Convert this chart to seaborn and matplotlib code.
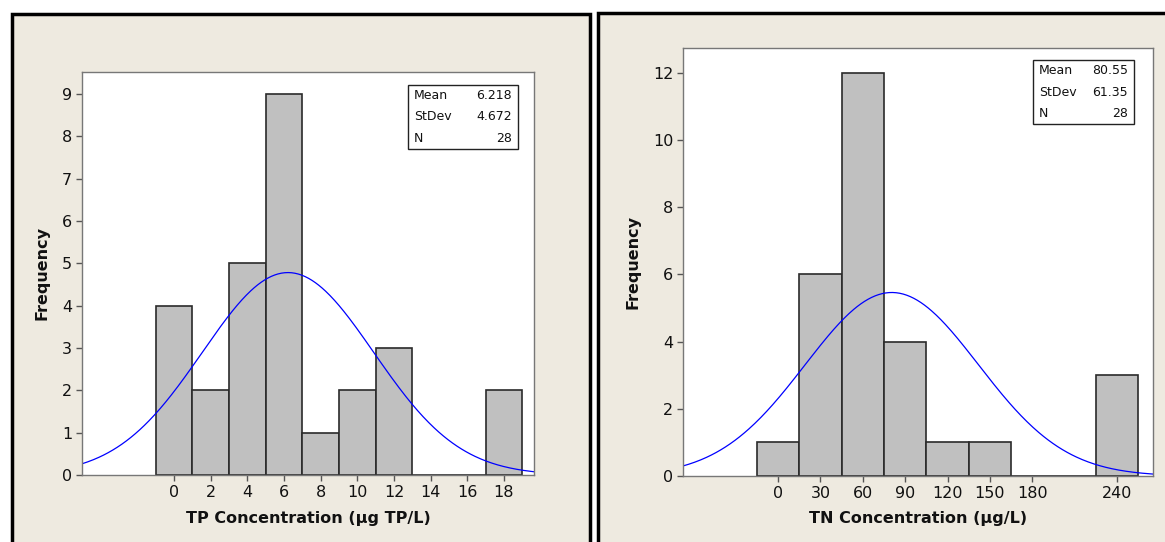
import numpy as np
import pandas as pd
import matplotlib
matplotlib.use("Agg")
import matplotlib.pyplot as plt
import seaborn as sns
from matplotlib.patches import Rectangle

# ---- data ----
tp_centers = [0, 2, 4, 6, 8, 10, 12, 14, 16, 18]
tp_counts = [4, 2, 5, 9, 1, 2, 3, 0, 0, 2]
tp_binwidth = 2
tp_stats = {"Mean": 6.218, "StDev": 4.672, "N": 28}
tp_stat_labels = ["6.218", "4.672", "28"]
tp_xticks = [0, 2, 4, 6, 8, 10, 12, 14, 16, 18]
tp_yticks = [0, 1, 2, 3, 4, 5, 6, 7, 8, 9]
tp_xlabel = "TP Concentration (µg TP/L)"

tn_centers = [0, 30, 60, 90, 120, 150, 180, 210, 240]
tn_counts = [1, 6, 12, 4, 1, 1, 0, 0, 3]
tn_binwidth = 30
tn_stats = {"Mean": 80.55, "StDev": 61.35, "N": 28}
tn_stat_labels = ["80.55", "61.35", "28"]
tn_xticks = [0, 30, 60, 90, 120, 150, 180, 240]
tn_yticks = [0, 2, 4, 6, 8, 10, 12]
tn_xlabel = "TN Concentration (µg/L)"

W, H = 1165, 542
BEIGE = "#EEEAE0"

sns.set_theme(style="white")
plt.rcParams["font.family"] = ["DejaVu Sans"]

fig = plt.figure(figsize=(W / 100, H / 100), dpi=100)
fig.patch.set_facecolor("white")


def fx(px):
    return px / W


def fy(py):
    return 1 - py / H


# panels
for x0, x1, y0 in [(12, 590, 14), (598, 1175, 13)]:
    fig.add_artist(Rectangle((fx(x0), fy(H + 10)), fx(x1) - fx(x0), fy(y0) - fy(H + 10),
                             transform=fig.transFigure, facecolor=BEIGE,
                             edgecolor="black", linewidth=2.5, zorder=0))


def panel(rect_px, centers, counts, bw, stats, stat_labels, xticks, yticks,
          xlim, ylim, xlabel, ylab_x, box_px):
    x0, y0, x1, y1 = rect_px
    ax = fig.add_axes([fx(x0), fy(y1), fx(x1) - fx(x0), fy(y0) - fy(y1)])
    ax.set_facecolor("white")
    edges = [float(c - bw / 2) for c in centers] + [float(centers[-1] + bw / 2)]
    df = pd.DataFrame({"x": centers, "w": counts})
    sns.histplot(data=df, x="x", weights="w", bins=edges, ax=ax,
                 color="#C0C0C0", edgecolor="#2a2a2a", linewidth=1.2, alpha=1)
    mu, sd, n = stats["Mean"], stats["StDev"], stats["N"]
    xs = np.linspace(xlim[0], xlim[1], 400)
    ys = n * bw / (sd * np.sqrt(2 * np.pi)) * np.exp(-0.5 * ((xs - mu) / sd) ** 2)
    sns.lineplot(x=xs, y=ys, ax=ax, color="#0000FF", linewidth=0.9)
    ax.set_xlim(*xlim)
    ax.set_ylim(*ylim)
    ax.set_xticks(xticks)
    ax.set_yticks(yticks)
    ax.tick_params(axis="both", which="both", length=4, width=1, color="#555555",
                   labelsize=11.5, labelcolor="#111111", pad=3,
                   bottom=True, left=True)
    for s in ax.spines.values():
        s.set_color("#777777")
        s.set_linewidth(1.0)
        s.set_visible(True)
    ax.set_xlabel("")
    ax.set_ylabel("")
    fig.text(fx((x0 + x1) / 2), fy(518), xlabel, ha="center", va="center",
             fontsize=11.5, fontweight="bold", color="#111111")
    fig.text(fx(ylab_x), fy((y0 + y1) / 2), "Frequency", rotation=90,
             ha="center", va="center", fontsize=11.5, fontweight="bold", color="#111111")
    bx0, by0, bx1, by1 = box_px
    fig.add_artist(Rectangle((fx(bx0), fy(by1)), fx(bx1) - fx(bx0), fy(by0) - fy(by1),
                             transform=fig.transFigure, facecolor="white",
                             edgecolor="#222222", linewidth=1.0, zorder=5))
    rows = list(stats.keys())
    step = (by1 - by0) / 3
    for i, (lab, val) in enumerate(zip(rows, stat_labels)):
        yy = by0 + step * (i + 0.5)
        fig.text(fx(bx0 + 6), fy(yy), lab, ha="left", va="center", fontsize=9,
                 color="#111111", zorder=6)
        fig.text(fx(bx1 - 6), fy(yy), val, ha="right", va="center", fontsize=9,
                 color="#111111", zorder=6)
    return ax


panel((82, 72, 534, 475), tp_centers, tp_counts, tp_binwidth, tp_stats, tp_stat_labels,
      tp_xticks, tp_yticks, (-5.02, 19.64), (0, 9.52), tp_xlabel, 42, (408, 85, 518, 149))
panel((683, 48, 1153, 476), tn_centers, tn_counts, tn_binwidth, tn_stats, tn_stat_labels,
      tn_xticks, tn_yticks, (-67.3, 265.5), (0, 12.74), tn_xlabel, 633, (1033, 60, 1134, 124))

fig.savefig("out.png", dpi=100, facecolor=fig.get_facecolor())
